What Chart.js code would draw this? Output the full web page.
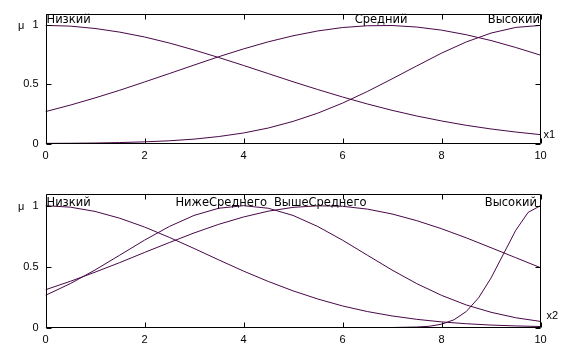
<!DOCTYPE html>
<html>
<head>
<meta charset="utf-8">
<script src="https://cdn.jsdelivr.net/npm/chart.js@4/dist/chart.umd.min.js"></script>
<style>
    html, body { margin: 0; padding: 0; background: #fff; }
    #wrap { position: relative; width: 564px; height: 353px; }
    #c1 { position: absolute; left: 0; top: 0; }
    #c2 { position: absolute; left: 0; top: 176px; }
</style>
</head>
<body>
<div id="wrap">
    <canvas id="c1" width="564" height="176"></canvas>
    <canvas id="c2" width="564" height="177"></canvas>
</div>
<script>
// значения аргумента (общие для всех функций принадлежности)
const xs = [0, 0.5, 1, 1.5, 2, 2.5, 3, 3.5, 4, 4.5, 5, 5.5, 6, 6.5, 7, 7.5, 8, 8.5, 9, 9.5, 10];
const xTicks = [0, 2, 4, 6, 8, 10];
const yTicks = [0, 0.5, 1];

// x1
const x1Names = ['Низкий', 'Средний', 'Высокий'];
const x1Low = [1, 0.994, 0.974, 0.943, 0.902, 0.851, 0.792, 0.728, 0.661, 0.592, 0.523, 0.457, 0.394, 0.335, 0.281, 0.233, 0.191, 0.154, 0.123, 0.097, 0.075];
const x1Mid = [0.270, 0.325, 0.386, 0.451, 0.521, 0.592, 0.664, 0.735, 0.801, 0.861, 0.912, 0.953, 0.982, 0.997, 0.999, 0.986, 0.960, 0.921, 0.872, 0.813, 0.748];
const x1High = [0.001, 0.002, 0.004, 0.008, 0.014, 0.023, 0.037, 0.059, 0.089, 0.131, 0.187, 0.257, 0.342, 0.440, 0.547, 0.657, 0.765, 0.860, 0.935, 0.983, 1];

// x2
const x2Names = ['Низкий', 'НижеСреднего', 'ВышеСреднего', 'Высокий'];
const x2Low = [1, 0.988, 0.953, 0.897, 0.825, 0.740, 0.649, 0.555, 0.463, 0.378, 0.301, 0.234, 0.177, 0.131, 0.095, 0.067, 0.046, 0.031, 0.020, 0.013, 0.008];
const x2BelowMid = [0.264, 0.360, 0.472, 0.594, 0.717, 0.829, 0.920, 0.979, 1, 0.979, 0.920, 0.829, 0.717, 0.594, 0.472, 0.360, 0.264, 0.185, 0.125, 0.080, 0.050];
const x2AboveMid = [0.310, 0.379, 0.454, 0.533, 0.616, 0.697, 0.776, 0.847, 0.907, 0.955, 0.986, 0.999, 0.995, 0.972, 0.932, 0.877, 0.811, 0.736, 0.655, 0.573, 0.491];
const x2HighX = [0, 7, 7.5, 7.75, 8, 8.25, 8.5, 8.75, 9, 9.25, 9.5, 9.75, 10];
const x2High = [0, 0, 0.004, 0.010, 0.027, 0.063, 0.131, 0.244, 0.406, 0.602, 0.798, 0.945, 1];

const lineColor = '#480848';
const tickFont = '"Liberation Sans", Arial, sans-serif';
const nameFont = '11.5px "DejaVu Sans", sans-serif';

Chart.defaults.font.family = tickFont;
Chart.defaults.font.size = 11;
Chart.defaults.color = '#000';

function points(xv, yv) {
    return yv.map((y, i) => ({ x: xv[i], y: y }));
}

// рамка, внутренние засечки и подписи
const framePlugin = {
    id: 'frame',
    afterDraw(chart, args, opts) {
        const c = chart.ctx;
        const a = chart.chartArea;
        const sx = chart.scales.x;
        const sy = chart.scales.y;
        const L = Math.round(a.left) + 0.5, R = Math.round(a.right) - 0.5;
        const T = Math.round(a.top) + 0.5, B = Math.round(a.bottom) - 0.5;
        c.save();
        c.strokeStyle = '#000';
        c.lineWidth = 1;
        c.beginPath();
        c.rect(L, T, R - L, B - T);
        xTicks.forEach(v => {
            const p = Math.round(sx.getPixelForValue(v)) + 0.5;
            c.moveTo(p, T); c.lineTo(p, T + 5);
            c.moveTo(p, B); c.lineTo(p, B - 5);
        });
        yTicks.forEach(v => {
            const p = Math.round(sy.getPixelForValue(v)) + 0.5;
            c.moveTo(L, p); c.lineTo(L + 5, p);
            c.moveTo(R, p); c.lineTo(R - 5, p);
        });
        c.stroke();

        c.fillStyle = '#000';
        c.font = '11px ' + tickFont;
        c.textBaseline = 'middle';
        c.textAlign = 'left';
        c.fillText('μ', 18, sy.getPixelForValue(1) + 1);
        c.fillText(opts.axisName, a.right + opts.axisDx, a.bottom - opts.axisDy);

        c.font = nameFont;
        c.textBaseline = 'alphabetic';
        opts.names.forEach((n, i) => {
            c.textAlign = opts.align[i];
            c.fillText(n, sx.getPixelForValue(opts.at[i]), a.top + opts.baseline);
        });
        c.restore();
    }
};

function makeChart(id, datasets, frame, padTop) {
    return new Chart(document.getElementById(id), {
        type: 'line',
        data: { datasets: datasets },
        options: {
            responsive: false,
            animation: false,
            events: [],
            layout: { padding: { left: 0, right: 23.5, top: padTop, bottom: 0 } },
            plugins: {
                legend: { display: false },
                tooltip: { enabled: false },
                frame: frame
            },
            elements: {
                point: { radius: 0 },
                line: { borderWidth: 1, tension: 0, borderColor: lineColor }
            },
            scales: {
                x: {
                    type: 'linear',
                    min: 0, max: 10,
                    grid: { display: false, drawTicks: false },
                    border: { display: false },
                    ticks: { stepSize: 2, padding: 6, maxRotation: 0 },
                    afterFit: s => { s.height = s.chart.height - padTop - 134; }
                },
                y: {
                    min: 0, max: 1.1,
                    grid: { display: false, drawTicks: false },
                    border: { display: false },
                    afterBuildTicks: s => { s.ticks = yTicks.map(v => ({ value: v })); },
                    ticks: { padding: 7, callback: v => String(v) },
                    afterFit: s => { s.width = 45.5; }
                }
            }
        },
        plugins: [framePlugin]
    });
}

function ds(data) {
    return { data: data, borderColor: lineColor, fill: false };
}

makeChart('c1', [
    ds(points(xs, x1Low)),
    ds(points(xs, x1Mid)),
    ds(points(xs, x1High))
], {
    names: x1Names,
    at: [0.02, 6.78, 9.99],
    align: ['left', 'center', 'right'],
    baseline: 9,
    axisName: 'x1', axisDx: 3, axisDy: 9
}, 9.5);

makeChart('c2', [
    ds(points(xs, x2Low)),
    ds(points(xs, x2BelowMid)),
    ds(points(xs, x2AboveMid)),
    ds(points(x2HighX, x2High))
], {
    names: x2Names,
    at: [0.02, 3.55, 5.55, 9.93],
    align: ['left', 'center', 'center', 'right'],
    baseline: 12,
    axisName: 'x2', axisDx: 6, axisDy: 12
}, 17.5);
</script>
</body>
</html>
